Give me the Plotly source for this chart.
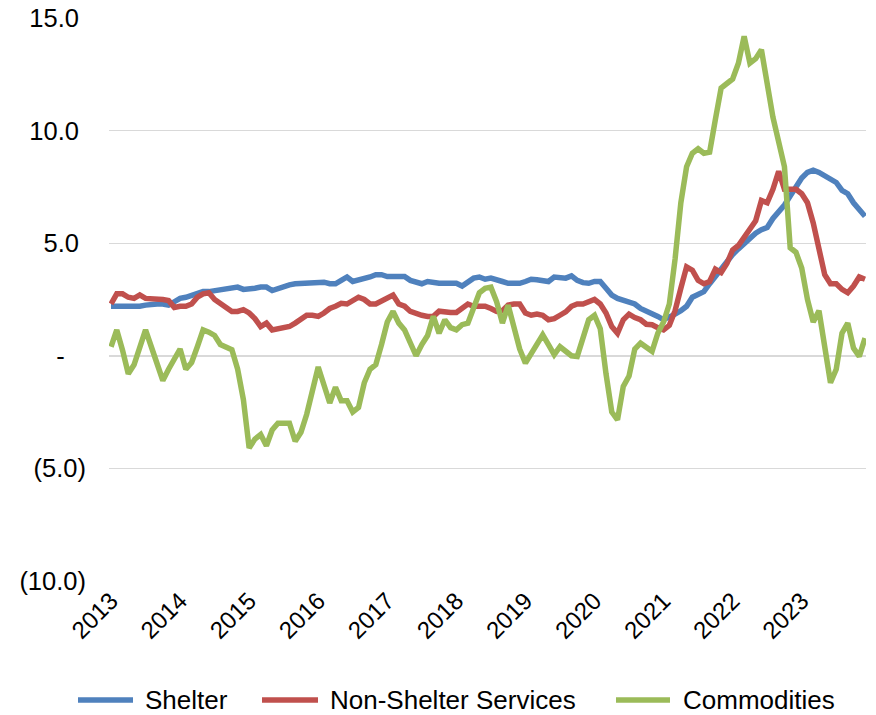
import plotly.graph_objects as go

years = ["2013", "2014", "2015", "2016", "2017", "2018", "2019", "2020", "2021", "2022", "2023"]
series_names = ["Shelter", "Non-Shelter Services", "Commodities"]
series_colors = ["#4f81bd", "#c0504d", "#9bbb59"]

shelter = [
    2.2, 2.2, 2.15, 2.15, 2.2, 2.2, 2.25, 2.3, 2.3, 2.3, 2.25, 2.4,
    2.55, 2.6, 2.7, 2.8, 2.85, 2.85, 2.9, 2.95, 3.0, 3.05, 3.05, 2.95,
    2.95, 3.0, 3.05, 3.05, 2.9, 3.0, 3.1, 3.15, 3.2, 3.22, 3.25, 3.25,
    3.27, 3.27, 3.2, 3.2, 3.35, 3.5, 3.3, 3.35, 3.4, 3.5, 3.6, 3.6,
    3.52, 3.52, 3.52, 3.52, 3.35, 3.3, 3.2, 3.3, 3.25, 3.22, 3.22, 3.22,
    3.22, 3.1, 3.3, 3.45, 3.5, 3.4, 3.45, 3.35, 3.3, 3.22, 3.22, 3.22,
    3.3, 3.4, 3.38, 3.35, 3.3, 3.5, 3.5, 3.45, 3.55, 3.35, 3.25, 3.22,
    3.3, 3.3, 3.0, 2.7, 2.55, 2.45, 2.4, 2.3, 2.1, 2.0, 1.9, 1.75,
    1.6, 1.7, 1.85, 2.0, 2.2, 2.6, 2.75, 2.85, 3.2, 3.55, 3.9, 4.2,
    4.5, 4.75, 5.0, 5.2, 5.45, 5.6, 5.7, 6.1, 6.4, 6.7, 7.1, 7.5,
    7.9, 8.15, 8.25, 8.15, 8.0, 7.85, 7.7, 7.35, 7.2, 6.8, 6.5, 6.2,
]

non_shelter = [
    2.3, 2.75, 2.75, 2.6, 2.55, 2.7, 2.55, 2.55, 2.5, 2.5, 2.45, 2.15,
    2.2, 2.2, 2.3, 2.6, 2.75, 2.8, 2.5, 2.3, 2.1, 1.97, 1.97, 2.05,
    1.9, 1.65, 1.3, 1.45, 1.15, 1.2, 1.22, 1.3, 1.45, 1.6, 1.8, 1.8,
    1.75, 1.9, 2.1, 2.2, 2.33, 2.3, 2.45, 2.6, 2.5, 2.3, 2.3, 2.45,
    2.62, 2.7, 2.3, 2.2, 1.97, 1.86, 1.8, 1.75, 1.75, 1.98, 1.92, 1.92,
    1.92, 2.1, 2.3, 2.2, 2.2, 2.2, 2.1, 1.97, 2.0, 2.25, 2.3, 2.3,
    1.9, 1.8, 1.85, 1.8, 1.6, 1.65, 1.8, 1.95, 2.2, 2.3, 2.3, 2.4,
    2.5, 2.3, 1.9, 1.3, 1.0, 1.6, 1.85, 1.7, 1.6, 1.4, 1.38, 1.25,
    1.15, 1.35, 2.0, 3.0, 3.95, 3.8, 3.35, 3.2, 3.3, 3.85, 3.7, 4.1,
    4.7, 4.9, 5.25, 5.65, 6.0, 6.9, 6.8, 7.4, 8.2, 7.4, 7.4, 7.4,
    7.2, 6.8, 5.9, 4.8, 3.6, 3.2, 3.2, 2.95, 2.8, 3.1, 3.5, 3.4,
]

commodities = [
    0.4, 1.15, 0.25, -0.8, -0.4, 0.4, 1.15, 0.4, -0.4, -1.1, -0.6, -0.2,
    0.3, -0.6, -0.3, 0.4, 1.15, 1.05, 0.9, 0.5, 0.4, 0.27, -0.6, -1.95,
    -4.1, -3.7, -3.5, -4.0, -3.3, -3.0, -3.0, -3.0, -3.8, -3.4, -2.6, -1.6,
    -0.5, -1.3, -2.1, -1.4, -2.0, -2.0, -2.5, -2.3, -1.2, -0.6, -0.4, 0.5,
    1.5, 1.97, 1.45, 1.15, 0.6, 0.0, 0.5, 0.9, 1.75, 1.0, 1.6, 1.25,
    1.15, 1.38, 1.45, 2.2, 2.8, 3.0, 3.05, 2.4, 1.45, 2.25, 1.3, 0.3,
    -0.33, 0.1, 0.6, 0.93, 0.49, 0.05, 0.4, 0.2, 0.0, -0.03, 0.9, 1.6,
    1.8, 1.2, -0.8, -2.5, -2.85, -1.36, -0.9, 0.3, 0.56, 0.4, 0.2, 1.0,
    1.5, 2.3, 4.3, 6.8, 8.4, 9.0, 9.2, 9.0, 9.05, 10.5, 11.9, 12.1,
    12.3, 13.0, 14.2, 13.0, 13.2, 13.6, 12.0, 10.6, 9.5, 8.4, 4.8, 4.6,
    3.9, 2.5, 1.5, 2.0, 0.4, -1.2, -0.6, 1.0, 1.45, 0.34, -0.03, 0.78,
]

y_tick_values = [15, 10, 5, 0, -5, -10]
y_tick_text = ["15.0\u00a0", "10.0\u00a0", "5.0\u00a0", "-\u2007\u00a0", "(5.0)", "(10.0)"]

FONT = "Liberation Sans, Arial, sans-serif"

months = list(range(len(shelter)))
fig = go.Figure()
for name, color, vals in zip(series_names, series_colors, [shelter, non_shelter, commodities]):
    fig.add_trace(go.Scatter(x=months, y=vals, mode="lines", name=name,
                             line=dict(color=color, width=5.5), showlegend=False,
                             cliponaxis=False, hoverinfo="skip"))

# page body margin is removed (post_script), so the figure fills the window
W, H = 876, 715
L, R, T = 109, 10, 17.5
B = H - 581
pw, ph = W - L - R, H - T - B

fig.update_layout(
    width=W, height=H,
    margin=dict(l=L, r=R, t=T, b=B, pad=0, autoexpand=False),
    plot_bgcolor="white", paper_bgcolor="white",
    font=dict(family=FONT, color="#000000", size=24),
    xaxis=dict(range=[-0.35, 131.17], tickmode="array",
               tickvals=[12 * k for k in range(len(years))], ticktext=years,
               tickangle=-45, showgrid=False, zeroline=False, showline=False,
               ticks="", automargin=False, ticklabeloverflow="allow",
               tickfont=dict(size=24, family=FONT, color="#000000")),
    yaxis=dict(range=[-10.01, 15.01], tickmode="array", tickvals=y_tick_values,
               ticktext=y_tick_text, showgrid=True, gridcolor="#d9d9d9",
               gridwidth=1.5, zeroline=False, showline=False, ticks="",
               ticklabelstandoff=22, automargin=False, ticklabeloverflow="allow",
               tickfont=dict(size=25.5, family=FONT, color="#000000")),
)

# custom legend (line swatches + labels) under the chart, in page pixels
legend_y_px = 700
legend_items = [(78, 133, 143), (262, 318, 328), (616, 670, 681)]
def px_to_paper_x(px):
    return (px - L) / pw
def px_to_paper_y(py):
    return (H - B - py) / ph
for (x0, x1, xt), name, color in zip(legend_items, series_names, series_colors):
    fig.add_shape(type="line", xref="paper", yref="paper",
                  x0=px_to_paper_x(x0), x1=px_to_paper_x(x1),
                  y0=px_to_paper_y(legend_y_px), y1=px_to_paper_y(legend_y_px),
                  line=dict(color=color, width=5.5))
    fig.add_annotation(text=name, xref="paper", yref="paper",
                       x=px_to_paper_x(xt), y=px_to_paper_y(legend_y_px),
                       xanchor="left", yanchor="middle", showarrow=False,
                       font=dict(size=26, family=FONT, color="#000000"))

fig.write_html("out.html",
               config={"displayModeBar": False, "staticPlot": True},
               post_script="document.body.style.margin='0px';"
                           "document.body.style.overflow='hidden';")
